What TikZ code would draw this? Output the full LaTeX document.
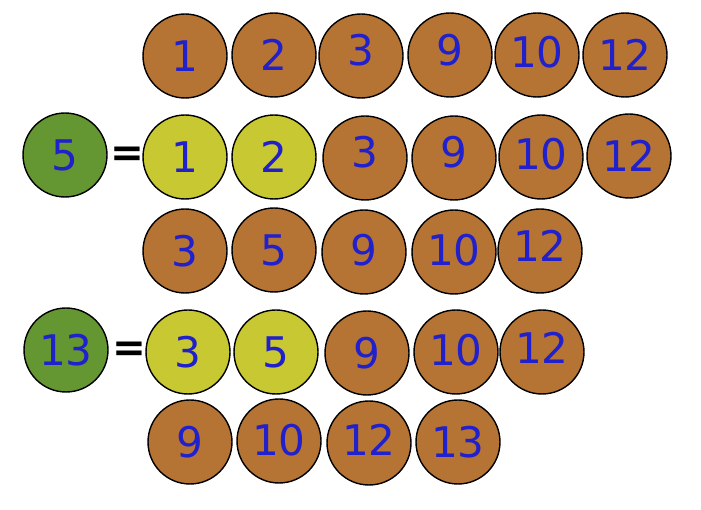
\documentclass[tikz,border=0pt]{standalone}
\usepackage{fontspec}
\setmainfont{DejaVu Sans}
\usepackage{tikz}
\usetikzlibrary{positioning}
\definecolor{ballbrown}{RGB}{181,115,52}
\definecolor{ballyellow}{RGB}{200,200,50}
\definecolor{ballgreen}{RGB}{100,150,50}
\definecolor{digitblue}{RGB}{32,32,204}

\begin{document}
\begin{tikzpicture}[x=0.02cm, y=-0.02cm,
    ball/.style={circle, draw, line width=0.8pt, minimum size=1.68cm, inner sep=0pt,
      text height=17.5pt, text depth=0pt,
      fill=ballbrown, text=digitblue, font=\fontsize{24}{24}\selectfont},
    hit/.style={ball, fill=ballyellow},
    key/.style={ball, fill=ballgreen},
    eq/.style={font=\fontsize{23}{23}\selectfont\bfseries, inner sep=0pt}
]
\useasboundingbox (0,0) rectangle (701,510);

% first list
\node[ball] (a1) at (185,56) {1};
\node[ball] (a2) at (274,55) {2};
\node[ball] (a3) at (361,56) {\raisebox{3.2pt}{3}};
\node[ball] (a4) at (450,55) {\raisebox{2.8pt}{9}};
\node[ball] (a5) at (537,55) {\raisebox{1.4pt}{10}};
\node[ball] (a6) at (625,55) {12};

% search 5
\node[key] (k5) at (65,155) {5};
\node[eq] (e5) at (127,157) {=};
\node[hit] (b1) at (185,157) {1};
\node[hit] (b2) at (274,157) {2};
\node[ball] (b3) at (365,158) {\raisebox{3.4pt}{3}};
\node[ball] (b4) at (454,158) {\raisebox{3.4pt}{9}};
\node[ball] (b5) at (541,157) {\raisebox{1.7pt}{10}};
\node[ball] (b6) at (629,156) {12};

% after removal
\node[ball] (c1) at (185,251) {3};
\node[ball] (c2) at (274,250) {5};
\node[ball] (c3) at (364,252) {\raisebox{1pt}{9}};
\node[ball] (c4) at (454,252) {\raisebox{1.1pt}{10}};
\node[ball] (c5) at (540,251) {\raisebox{2.5pt}{12}};

% search 13
\node[key] (k13) at (66,350) {13};
\node[eq] (e13) at (129,352) {=};
\node[hit] (d1) at (188,352) {3};
\node[hit] (d2) at (276,352) {5};
\node[ball] (d3) at (367,353) {9};
\node[ball] (d4) at (456,352) {\raisebox{1.1pt}{10}};
\node[ball] (d5) at (542,352) {\raisebox{2pt}{12}};

% result
\node[ball] (f1) at (190,442) {9};
\node[ball] (f2) at (279,441) {\raisebox{0.6pt}{10}};
\node[ball] (f3) at (369,443) {\raisebox{1.7pt}{12}};
\node[ball] (f4) at (458,442) {13};

\end{tikzpicture}
\end{document}
